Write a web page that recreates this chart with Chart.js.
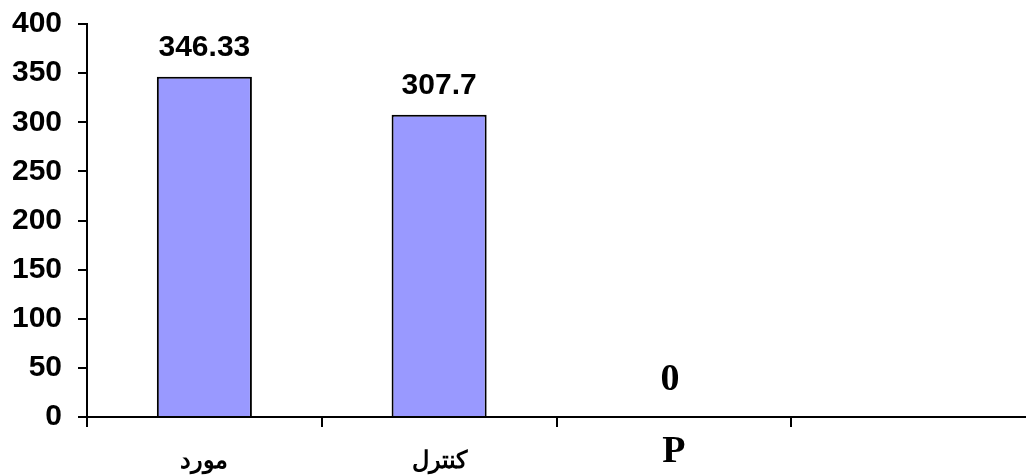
<!DOCTYPE html>
<html><head><meta charset="utf-8">
<script src="https://cdn.jsdelivr.net/npm/chart.js@4.4.1/dist/chart.umd.min.js"></script>
<style>html,body{margin:0;padding:0;background:#fff}#wrap{width:1026px;height:476px}</style>
</head><body><div id="wrap"><canvas id="c" width="1026" height="476"></canvas></div>
<script>
const categories = ['مورد', 'کنترل', 'P', ''];
const values = [346.33, 307.7, 0, null];
const valueLabels = ['346.33', '307.7', '0', ''];
const yMin = 0, yMax = 400, yStep = 50;

const sans = "'Liberation Sans', Arial, sans-serif";
const serif = "'Liberation Serif', 'Times New Roman', serif";

const labelPlugin = {
  id: 'valueLabels',
  afterDatasetsDraw(chart) {
    const ctx = chart.ctx;
    const meta = chart.getDatasetMeta(0);
    meta.data.forEach((bar, i) => {
      if (values[i] === null || !valueLabels[i]) return;
      ctx.save();
      ctx.fillStyle = '#000';
      ctx.textAlign = 'center';
      ctx.textBaseline = 'alphabetic';
      if (i === 2) {
        ctx.font = "bold 38px " + serif;
        ctx.fillText(valueLabels[i], bar.x - 4, bar.y - 27);
      } else {
        ctx.font = "bold 30px " + sans;
        ctx.fillText(valueLabels[i], bar.x, bar.y - 21);
      }
      ctx.restore();
    });
  }
};

new Chart(document.getElementById('c'), {
  type: 'bar',
  data: {
    labels: categories,
    datasets: [{
      data: values,
      backgroundColor: '#9999FF',
      borderColor: '#000',
      borderWidth: 2,
      categoryPercentage: 1,
      barPercentage: 0.405
    }]
  },
  options: {
    responsive: false,
    animation: false,
    devicePixelRatio: 1,
    layout: { padding: { top: 24, right: 0, left: 0, bottom: 0 } },
    plugins: { legend: { display: false }, tooltip: { enabled: false } },
    scales: {
      x: {
        offset: true,
        grid: {
          display: true, drawOnChartArea: false, offset: true, color: '#000', lineWidth: 2, tickLength: 10, tickWidth: 2,
          tickColor: (c) => (c.index === undefined || c.index >= categories.length) ? 'rgba(0,0,0,0)' : '#000'
        },
        border: { display: true, color: '#000', width: 2 },
        ticks: {
          color: '#000',
          padding: 20,
          maxRotation: 0,
          autoSkip: false,
          font: (c) => c.index === 2 ? { family: serif, size: 38, weight: 'bold', lineHeight: '10px' } : { family: sans, size: 24, weight: 'bold', lineHeight: 1.2 }
        },
        afterFit(s) { s.height = 59; s.paddingLeft = 0; s.paddingRight = 0; }
      },
      y: {
        min: yMin, max: yMax,
        grid: { display: true, drawOnChartArea: false, color: '#000', lineWidth: 2, tickLength: 9, tickWidth: 2, tickColor: '#000' },
        border: { display: true, color: '#000', width: 2 },
        ticks: { stepSize: yStep, color: '#000', padding: 16, font: { family: sans, size: 30, weight: 'bold' } },
        afterFit(s) { s.width = 87; s.paddingTop = 0; s.paddingBottom = 0; }
      }
    }
  },
  plugins: [labelPlugin]
});
</script></body></html>
